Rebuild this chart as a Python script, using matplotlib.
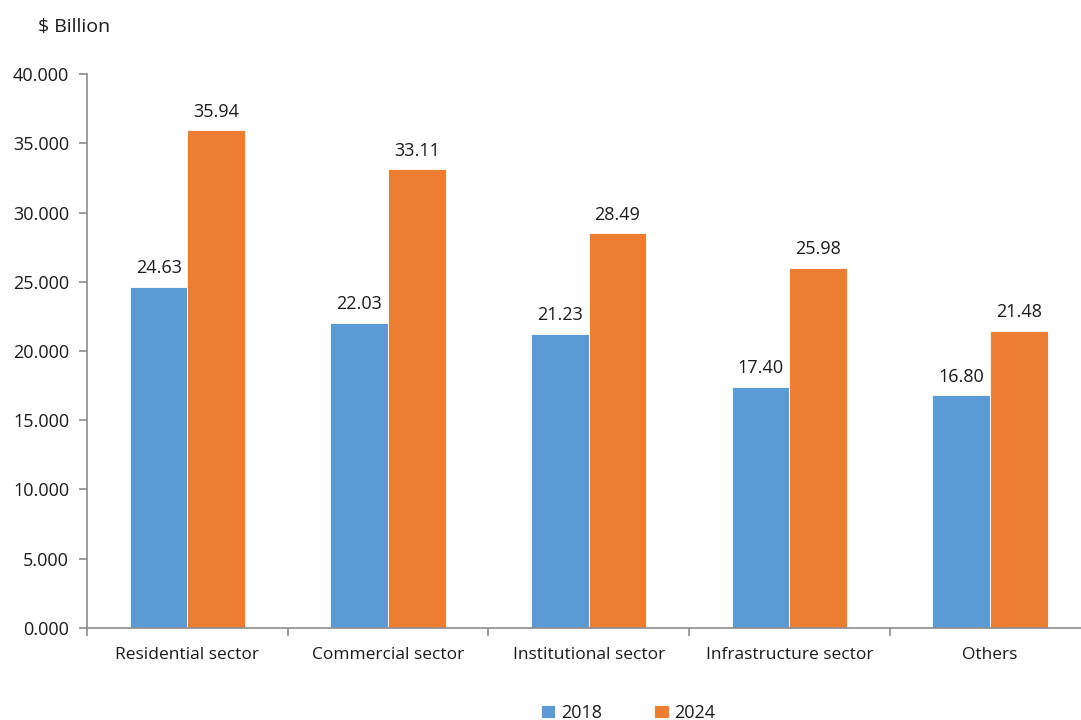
import matplotlib
matplotlib.use("Agg")
import matplotlib.pyplot as plt
import numpy as np
from matplotlib.ticker import FixedLocator, FormatStrFormatter

categories = ["Residential sector", "Commercial sector", "Institutional sector",
              "Infrastructure sector", "Others"]
series_names = ["2018", "2024"]
values_2018 = [24.63, 22.03, 21.23, 17.40, 16.80]
values_2024 = [35.94, 33.11, 28.49, 25.98, 21.48]
colors = ["#5B9BD5", "#ED7D31"]

plt.rcParams['font.family'] = ['Open Sans', 'DejaVu Sans']
text_color = "#1a1a1a"
axis_color = "#8c8c8c"

fig = plt.figure(figsize=(10.81, 7.2), dpi=100)
# the plotting area runs slightly past the right edge of the canvas
ax = fig.add_axes([0.0806, 0.1278, 0.928, 0.7694])

x = np.arange(len(categories))
w = 0.287
bars1 = ax.bar(x - w / 2, values_2018, w, color=colors[0], edgecolor="white",
               linewidth=0.6, label=series_names[0])
bars2 = ax.bar(x + w / 2, values_2024, w, color=colors[1], edgecolor="white",
               linewidth=0.6, label=series_names[1])

for bars, vals in ((bars1, values_2018), (bars2, values_2024)):
    for b, v in zip(bars, vals):
        ax.annotate(f"{v:.2f}", (b.get_x() + b.get_width() / 2, v),
                    xytext=(0, 7), textcoords="offset points",
                    ha="center", va="bottom", fontsize=13, color=text_color)

ax.set_xlim(-0.5, len(categories) - 0.5)
ax.set_ylim(0, 40)
ax.set_yticks(np.arange(0, 40.1, 5))
ax.yaxis.set_major_formatter(FormatStrFormatter("%.3f"))
ax.set_xticks(x)
ax.set_xticklabels(categories)
ax.xaxis.set_minor_locator(FixedLocator(np.arange(-0.5, len(categories), 1.0)))
ax.tick_params(axis="x", which="major", length=0, pad=14, labelsize=12.5,
               labelcolor=text_color)
ax.tick_params(axis="x", which="minor", length=6, width=1.2, color=axis_color,
               direction="out")
ax.tick_params(axis="y", length=6, width=1.2, color=axis_color, pad=7,
               labelsize=13, labelcolor=text_color)

for s in ("top", "right"):
    ax.spines[s].set_visible(False)
for s in ("left", "bottom"):
    ax.spines[s].set_color(axis_color)
    ax.spines[s].set_linewidth(1.2)

fig.text(0.035, 0.962, "$ Billion", fontsize=14, color=text_color,
         ha="left", va="center")

fig.legend(handles=[bars1, bars2], labels=series_names, loc="center",
           bbox_to_anchor=(0.581, 0.010), ncol=2, frameon=False, fontsize=13,
           handlelength=0.8, handleheight=0.8, handletextpad=0.3,
           columnspacing=2.9, labelcolor=text_color)

fig.savefig("out.png", dpi=100)
